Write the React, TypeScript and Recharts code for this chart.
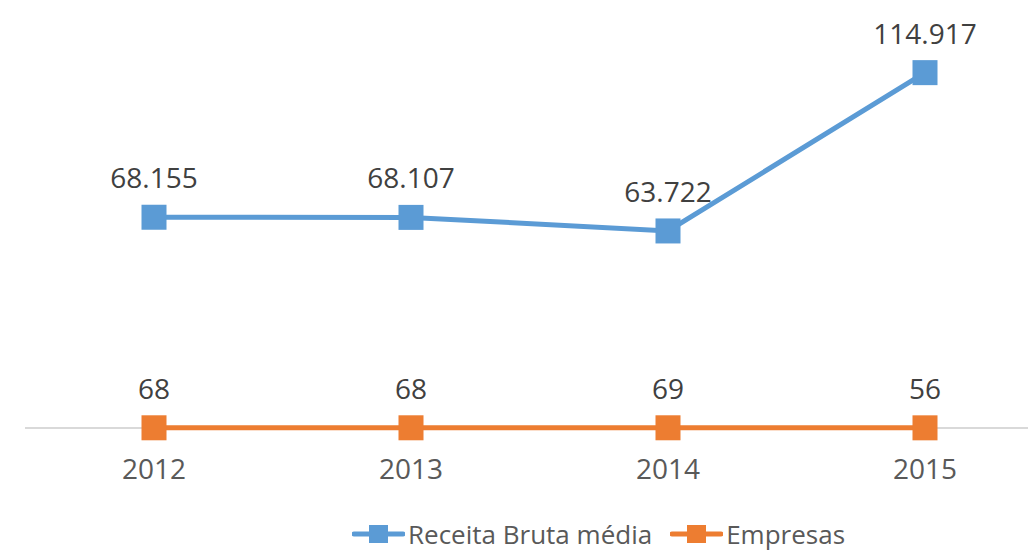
import { LineChart, Line, XAxis, YAxis, Legend, LabelList, CartesianGrid } from 'recharts';

const years = ['2012', '2013', '2014', '2015'];
const receita = [68155, 68107, 63722, 114917];
const empresas = [68, 68, 69, 56];

const data = years.map((year, i) => ({ year, receita: receita[i], empresas: empresas[i] }));

const BLUE = '#5B9BD5';
const ORANGE = '#ED7D31';
const FONT = '"Open Sans", sans-serif';

const fmt = (v: number) => v.toLocaleString('en-US').replace(/,/g, '.');

const SquareDot = (color: string) => (props: any) => {
  const { cx, cy, index } = props;
  if (cx == null || cy == null) return null;
  return <rect key={index} x={cx - 12.5} y={cy - 12.5} width={25} height={25} fill={color} />;
};

const DataLabel = (props: any) => {
  const { x, y, value } = props;
  return (
    <text x={x} y={y - 29} textAnchor="middle" fill="#404040" fontSize={28} fontFamily={FONT}>
      {fmt(Number(value))}
    </text>
  );
};

const legendItems = [
  { name: 'Receita Bruta média', color: BLUE },
  { name: 'Empresas', color: ORANGE },
];

const LegendContent = () => (
  <div style={{ display: 'flex', height: 36, alignItems: 'center', paddingLeft: 327, fontFamily: FONT }}>
    {legendItems.map((it) => (
      <div key={it.name} style={{ display: 'flex', alignItems: 'center', marginRight: 18 }}>
        <svg width={53} height={20}>
          <line x1={2} y1={10} x2={51} y2={10} stroke={it.color} strokeWidth={5} strokeLinecap="round" />
          <rect x={17} y={1} width={19} height={18} fill={it.color} />
        </svg>
        <span style={{ fontSize: 26, lineHeight: '36px', color: '#595959', marginLeft: 3, whiteSpace: 'nowrap' }}>
          {it.name}
        </span>
      </div>
    ))}
  </div>
);

// only the baseline at value 0, taken from the y axis scale
const zeroLine = ({ yAxis }: any) => {
  const s = yAxis && yAxis.scale;
  if (typeof s === 'function') return [s(0)];
  if (s && typeof s.map === 'function') return [s.map(0)];
  if (s && typeof s.apply === 'function') return [s.apply(0)];
  return [];
};

export default function App() {
  return (
    <div style={{ position: 'absolute', left: 0, top: 0, width: 1028, height: 552, background: '#fff' }}>
      <LineChart width={1028} height={552} data={data} margin={{ top: 26, right: -26, left: 25, bottom: 0 }}>
        <CartesianGrid
          vertical={false}
          stroke="#D9D9D9"
          strokeWidth={2}
          horizontalCoordinatesGenerator={zeroLine}
        />
        <XAxis
          dataKey="year"
          height={88}
          padding={{ left: 129, right: 129 }}
          axisLine={false}
          tickLine={false}
          tickMargin={25}
          interval={0}
          tick={{ fill: '#595959', fontSize: 28, fontFamily: FONT }}
        />
        <YAxis hide domain={[0, 130000]} ticks={[0]} />
        <Legend verticalAlign="bottom" height={36} content={<LegendContent />} />
        <Line
          dataKey="receita"
          name="Receita Bruta média"
          stroke={BLUE}
          strokeWidth={5}
          dot={SquareDot(BLUE)}
          activeDot={false}
          isAnimationActive={false}
        >
          <LabelList dataKey="receita" content={<DataLabel />} />
        </Line>
        <Line
          dataKey="empresas"
          name="Empresas"
          stroke={ORANGE}
          strokeWidth={5}
          dot={SquareDot(ORANGE)}
          activeDot={false}
          isAnimationActive={false}
        >
          <LabelList dataKey="empresas" content={<DataLabel />} />
        </Line>
      </LineChart>
    </div>
  );
}
